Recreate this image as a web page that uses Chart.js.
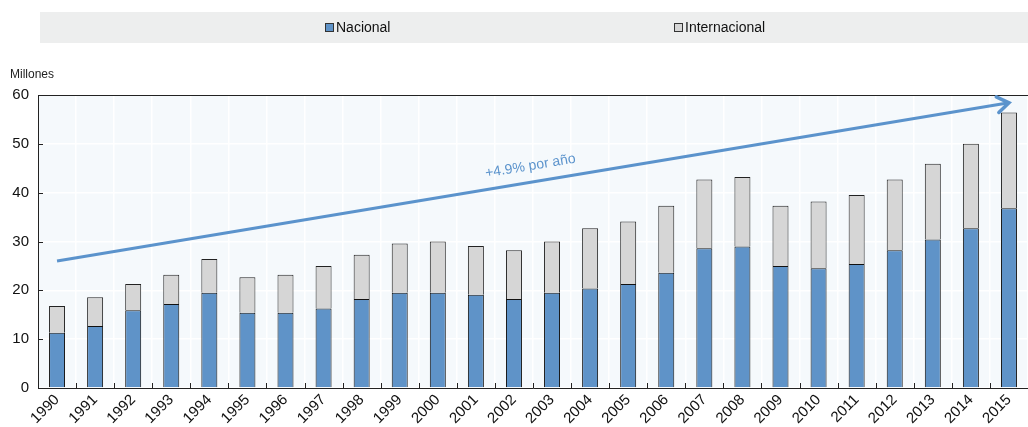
<!DOCTYPE html>
<html>
<head>
<meta charset="utf-8">
<script src="https://cdn.jsdelivr.net/npm/chart.js@4.4.1/dist/chart.umd.min.js"></script>
<style>
  html, body { margin: 0; padding: 0; background: #fff; }
  #wrap { width: 1028px; height: 427px; position: relative; }
</style>
</head>
<body>
<div id="wrap"><canvas id="chart"></canvas></div>
<script>
// Years on the x axis
const years = ['1990', '1991', '1992', '1993', '1994', '1995', '1996', '1997', '1998', '1999',
  '2000', '2001', '2002', '2003', '2004', '2005', '2006', '2007', '2008', '2009',
  '2010', '2011', '2012', '2013', '2014', '2015'];

// Millones de pasajeros
const nacional = [11.3, 12.7, 15.9, 17.2, 19.5, 15.4, 15.4, 16.3, 18.2, 19.5,
  19.5, 19.1, 18.2, 19.5, 20.4, 21.3, 23.6, 28.6, 29.0, 25.0,
  24.5, 25.4, 28.2, 30.4, 32.7, 36.8];
const internacional = [5.5, 5.9, 5.4, 6.0, 6.9, 7.3, 7.8, 8.7, 9.1, 10.1,
  10.5, 10.0, 10.0, 10.5, 12.3, 12.8, 13.7, 14.1, 14.2, 12.3,
  13.7, 14.1, 14.5, 15.5, 17.3, 19.6];

// Trend arrow: start (1990) and end (2015) values
const trendStart = 26.0;
const trendEnd = 58.4;
const trendLabel = '+4.9% por año';
const unitLabel = 'Millones';

const yTicks = [0, 10, 20, 30, 40, 50, 60];

const BLUE = '#5f93c8';
const GREY = '#d6d6d6';
const ARROW = '#5b93cc';
const FONT = '"Liberation Sans", Arial, sans-serif';

const trendData = years.map((y, i) => i === 0 ? trendStart : (i === years.length - 1 ? trendEnd : null));

// Draws plot background, legend band, unit label, inner ticks, arrow head and trend text
const decorPlugin = {
  id: 'decor',
  beforeDraw(chart) {
    const { ctx, chartArea: a } = chart;
    ctx.save();
    ctx.fillStyle = '#f5f9fc';
    ctx.fillRect(a.left, a.top, a.right - a.left, a.bottom - a.top);

    // legend band
    ctx.fillStyle = '#edeeee';
    ctx.fillRect(40, 12, chart.width - 40, 31);
    ctx.font = '14px "Liberation Sans Narrow", "Arial Narrow", ' + FONT;
    ctx.textBaseline = 'middle';
    const items = [
      { ds: chart.data.datasets[0], x: 325 },
      { ds: chart.data.datasets[1], x: 674 }
    ];
    items.forEach(it => {
      ctx.fillStyle = it.ds.backgroundColor;
      ctx.fillRect(it.x, 23, 9, 9);
      ctx.strokeStyle = '#333';
      ctx.lineWidth = 1;
      ctx.strokeRect(it.x + 0.5, 23.5, 8, 8);
      ctx.fillStyle = '#111';
      ctx.fillText(it.ds.label, it.x + 11, 28.5);
    });

    // unit label
    ctx.font = '12px ' + FONT;
    ctx.fillStyle = '#222';
    ctx.textBaseline = 'middle';
    ctx.fillText(unitLabel, 10, 75);
    ctx.restore();
  },
  afterDraw(chart) {
    const { ctx, chartArea: a, scales } = chart;
    ctx.save();
    // top frame line
    ctx.strokeStyle = '#222';
    ctx.lineWidth = 1;
    ctx.beginPath();
    ctx.moveTo(a.left, a.top + 0.5);
    ctx.lineTo(a.right, a.top + 0.5);
    ctx.stroke();

    // inner tick marks
    ctx.beginPath();
    yTicks.forEach(v => {
      const py = Math.round(scales.y.getPixelForValue(v)) + 0.5;
      ctx.moveTo(a.left, py);
      ctx.lineTo(a.left + 5, py);
    });
    for (let i = 1; i < years.length; i++) {
      const px = Math.round((scales.x.getPixelForValue(i - 1) + scales.x.getPixelForValue(i)) / 2) + 0.5;
      ctx.moveTo(px, a.bottom);
      ctx.lineTo(px, a.bottom - 5);
    }
    ctx.stroke();

    // arrow head and label along the trend line
    const pts = chart.getDatasetMeta(2).data;
    const p0 = pts[0], p1 = pts[pts.length - 1];
    const ang = Math.atan2(p1.y - p0.y, p1.x - p0.x);
    const len = 14, spread = 0.6;
    ctx.strokeStyle = ARROW;
    ctx.lineWidth = 3.5;
    ctx.lineCap = 'round';
    ctx.lineJoin = 'miter';
    ctx.beginPath();
    ctx.moveTo(p1.x - len * Math.cos(ang - spread), p1.y - len * Math.sin(ang - spread));
    ctx.lineTo(p1.x, p1.y);
    ctx.lineTo(p1.x - len * Math.cos(ang + spread), p1.y - len * Math.sin(ang + spread));
    ctx.stroke();

    const t = 0.5;
    const mx = p0.x + (p1.x - p0.x) * t;
    const my = p0.y + (p1.y - p0.y) * t;
    ctx.translate(mx + 16 * Math.sin(ang), my - 16 * Math.cos(ang));
    ctx.rotate(ang);
    ctx.font = '14px ' + FONT;
    ctx.fillStyle = ARROW;
    ctx.textAlign = 'center';
    ctx.textBaseline = 'middle';
    ctx.fillText(trendLabel, 0, 0);
    ctx.restore();
  }
};

new Chart(document.getElementById('chart'), {
  type: 'bar',
  data: {
    labels: years,
    datasets: [
      {
        label: 'Nacional', data: nacional, backgroundColor: BLUE,
        borderColor: '#111', borderWidth: 1, borderSkipped: 'bottom',
        barPercentage: 0.42, categoryPercentage: 1, stack: 'pax', order: 2
      },
      {
        label: 'Internacional', data: internacional, backgroundColor: GREY,
        borderColor: '#222', borderWidth: 1, borderSkipped: 'bottom',
        barPercentage: 0.42, categoryPercentage: 1, stack: 'pax', order: 2
      },
      {
        type: 'line', label: 'trend', data: trendData, spanGaps: true,
        borderColor: ARROW, borderWidth: 3, pointRadius: 0, stack: 'trend', order: 1
      }
    ]
  },
  options: {
    responsive: true,
    maintainAspectRatio: false,
    animation: false,
    layout: { padding: { top: 95, left: 0, right: 0, bottom: 0 } },
    plugins: {
      legend: { display: false },
      tooltip: { enabled: false }
    },
    scales: {
      x: {
        stacked: true,
        afterFit(scale) { scale.height = 39; },
        grid: { color: '#ffffff', lineWidth: 1.5, drawTicks: false, offset: true },
        border: { color: '#222', width: 1 },
        ticks: {
          color: '#111', font: { family: FONT, size: 15 },
          minRotation: 45, maxRotation: 45, padding: 3, autoSkip: false
        }
      },
      y: {
        stacked: true,
        min: 0, max: 60,
        afterFit(scale) { scale.width = 38; },
        afterBuildTicks(scale) { scale.ticks = yTicks.map(v => ({ value: v })); },
        grid: { color: '#ffffff', lineWidth: 1.5, drawTicks: false },
        border: { color: '#222', width: 1 },
        ticks: { color: '#111', font: { family: FONT, size: 15 }, padding: 9 }
      }
    }
  },
  plugins: [decorPlugin]
});
</script>
</body>
</html>
